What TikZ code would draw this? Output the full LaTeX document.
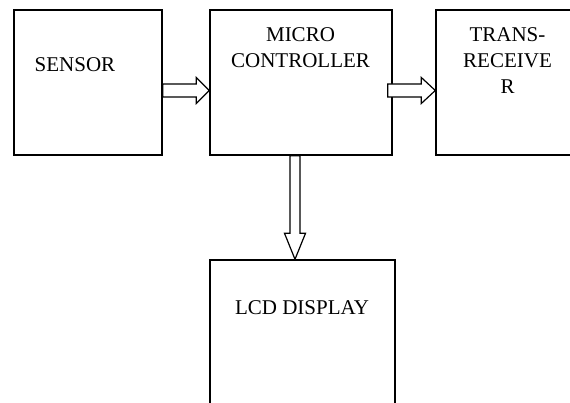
\documentclass[tikz,border=0pt]{standalone}
\usepackage{fontspec}
\setmainfont{Liberation Serif}
\usepackage{tikz}
\usetikzlibrary{calc}
\usetikzlibrary{positioning}
\tikzset{blockbox/.style = {draw, line width=1.4pt, inner sep=0pt},
         blocktext/.style = {inner sep=0pt, align=center,
                             font=\fontsize{21}{26}\selectfont},
         hollow/.style = {draw, fill=white, line width=1.2pt, line join=miter}}

\begin{document}
\begin{tikzpicture}[x=1pt, y=1pt]
    \useasboundingbox (0, 0) rectangle (570, 403);

    \node [blockbox, minimum width=148pt, minimum height=145pt] (sensor) at (88, 320.5) {};
    \node [blockbox, minimum width=182pt, minimum height=145pt] (micro) at (301, 320.5) {};
    \node [blockbox, minimum width=144pt, minimum height=145pt] (trans) at (508, 320.5) {};
    \node [blockbox, minimum width=185pt, minimum height=170pt] (lcd) at (302.5, 58) {};

    \node [blocktext, anchor=base] (sensorlbl) at (75, 331) {SENSOR};
    \node [blocktext, anchor=north] (microlbl) at (300.5, 376) {MICRO\\CONTROLLER};
    \node [blocktext, anchor=north] (translbl) at (507.5, 376) {TRANS-\\RECEIVE\\R};
    \node [blocktext, anchor=base] (lcdlbl) at (302, 88) {LCD DISPLAY};

    \coordinate (s1) at ([yshift=-8pt]sensor.east);
    \coordinate (m1) at ([yshift=-8pt]micro.west);
    \coordinate (m2) at ([xshift=-5pt, yshift=-8pt]micro.east);
    \coordinate (t1) at ([yshift=-8pt]trans.west);
    \coordinate (m3) at ([xshift=-6pt]micro.south);
    \coordinate (l1) at ([xshift=-7.5pt]lcd.north);

    \draw [hollow] ($(s1)+(0, 6.5)$) -- ($(m1)+(-13, 6.5)$) -- ($(m1)+(-13, 13)$) -- (m1)
        -- ($(m1)+(-13, -13)$) -- ($(m1)+(-13, -6.5)$) -- ($(s1)+(0, -6.5)$) -- cycle;
    \draw [hollow] ($(m2)+(0, 6.5)$) -- ($(t1)+(-14, 6.5)$) -- ($(t1)+(-14, 13)$) -- (t1)
        -- ($(t1)+(-14, -13)$) -- ($(t1)+(-14, -6.5)$) -- ($(m2)+(0, -6.5)$) -- cycle;
    \draw [hollow] ($(m3)+(-5, 0)$) -- ($(l1)+(-5, 26)$) -- ($(l1)+(-10.5, 26)$) -- (l1)
        -- ($(l1)+(10.5, 26)$) -- ($(l1)+(5, 26)$) -- ($(m3)+(5, 0)$) -- cycle;
\end{tikzpicture}
\end{document}
